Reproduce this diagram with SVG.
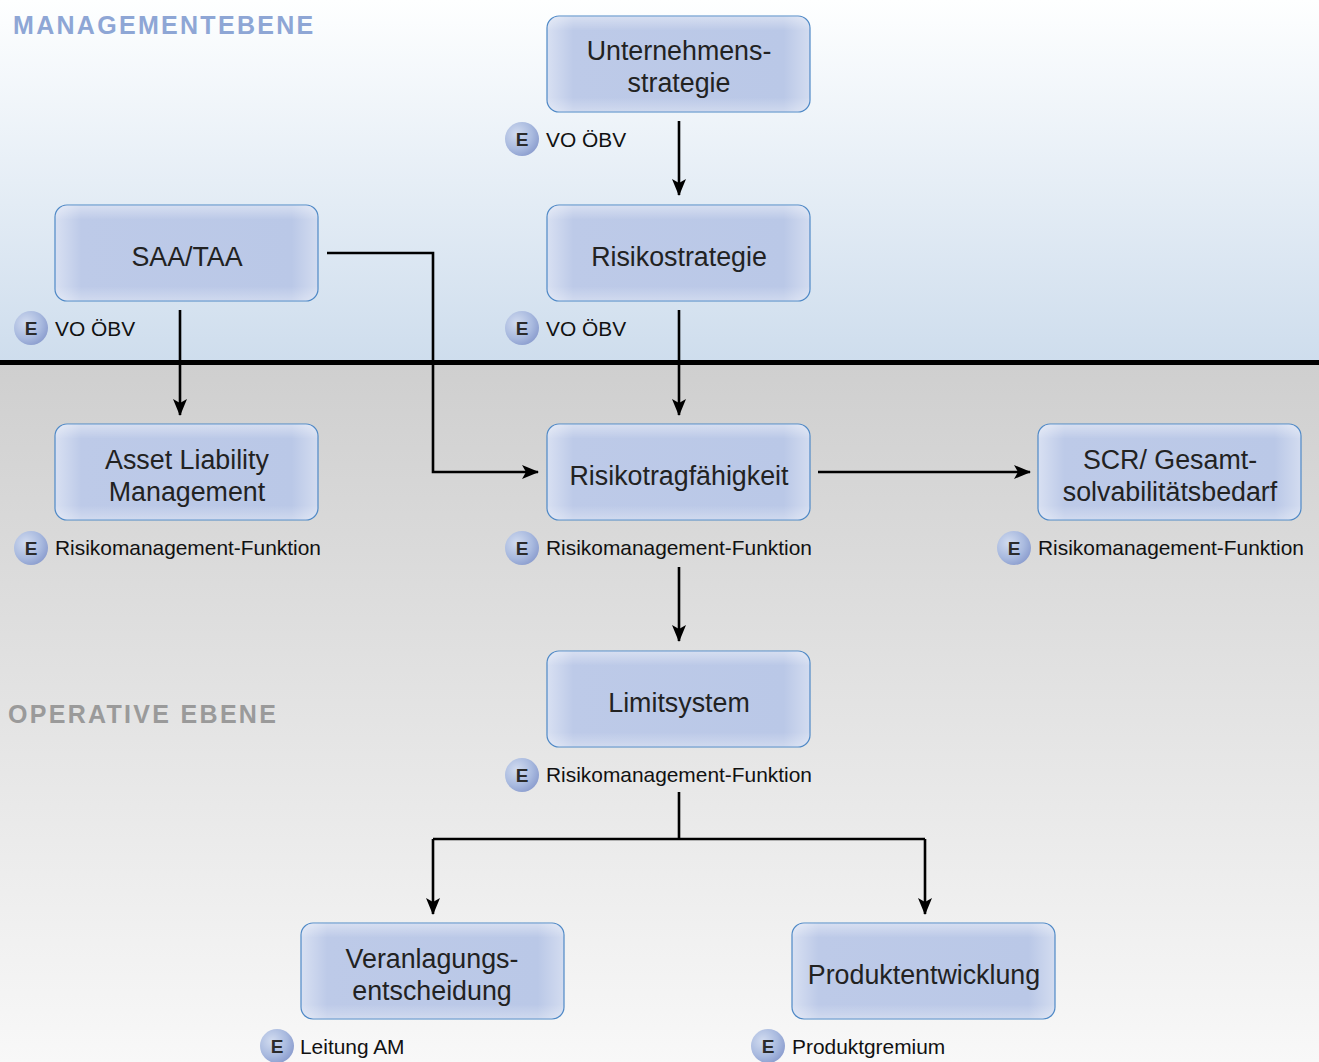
<svg xmlns="http://www.w3.org/2000/svg" width="1319" height="1062" viewBox="0 0 1319 1062">
<style>
.node-text{font-family:"Liberation Sans",Arial,sans-serif;font-size:26.8px;fill:#222;text-anchor:middle}
.lbl{font-family:"Liberation Sans",Arial,sans-serif;font-size:20.9px;fill:#111}
.e{font-family:"Liberation Sans",Arial,sans-serif;font-size:19px;font-weight:bold;fill:#2b2b2b;text-anchor:middle}
.head{font-family:"Liberation Sans",Arial,sans-serif;font-size:25px;font-weight:bold;letter-spacing:2.3px}
.box{stroke:#4f89c6;stroke-width:1.2}
.conn{fill:none;stroke:#000;stroke-width:2.6}
</style>
<defs>
<linearGradient id="bgTop" x1="0" y1="0" x2="0" y2="1">
<stop offset="0" stop-color="#feffff"/>
<stop offset="1" stop-color="#cedded"/>
</linearGradient>
<linearGradient id="bgBot" x1="0" y1="0" x2="0" y2="1">
<stop offset="0" stop-color="#cfcfcf"/>
<stop offset="1" stop-color="#f8f8f8"/>
</linearGradient>
<linearGradient id="nodeH" x1="0" y1="0" x2="1" y2="0">
<stop offset="0" stop-color="#d8e0f2"/>
<stop offset="0.1" stop-color="#bdcae8"/>
<stop offset="0.9" stop-color="#bac8e7"/>
<stop offset="1" stop-color="#d3dcf0"/>
</linearGradient>
<linearGradient id="nodeV" x1="0" y1="0" x2="0" y2="1">
<stop offset="0" stop-color="#ffffff" stop-opacity="0.4"/>
<stop offset="0.15" stop-color="#ffffff" stop-opacity="0"/>
<stop offset="0.85" stop-color="#ffffff" stop-opacity="0"/>
<stop offset="1" stop-color="#ffffff" stop-opacity="0.3"/>
</linearGradient>
<radialGradient id="badge" cx="0.35" cy="0.35" r="0.75">
<stop offset="0" stop-color="#d2dcf0"/>
<stop offset="0.6" stop-color="#a9badf"/>
<stop offset="1" stop-color="#8799cc"/>
</radialGradient>
<marker id="arr" markerWidth="17" markerHeight="14" refX="16" refY="7" orient="auto" markerUnits="userSpaceOnUse">
<path d="M0,0 L17,7 L0,14 L4,7 z" fill="#000"/>
</marker>
</defs>

<rect x="0" y="0" width="1319" height="362" fill="url(#bgTop)"/>
<rect x="0" y="362" width="1319" height="700" fill="url(#bgBot)"/>
<rect x="0" y="360" width="1319" height="5" fill="#000"/>

<text class="head" x="13" y="34" fill="#8ea6d5">MANAGEMENTEBENE</text>
<text class="head" x="8" y="723" fill="#9a9a9a">OPERATIVE EBENE</text>

<g id="connectors">
<path class="conn" d="M679,121 V195" marker-end="url(#arr)"/>
<path class="conn" d="M180,310 V415" marker-end="url(#arr)"/>
<path class="conn" d="M679,310 V415" marker-end="url(#arr)"/>
<path class="conn" d="M327,253 H433 V472 H538" marker-end="url(#arr)"/>
<path class="conn" d="M818,472 H1030" marker-end="url(#arr)"/>
<path class="conn" d="M679,567 V641" marker-end="url(#arr)"/>
<path class="conn" d="M679,792 V839 M433,839 H925"/>
<path class="conn" d="M433,839 V914" marker-end="url(#arr)"/>
<path class="conn" d="M925,839 V914" marker-end="url(#arr)"/>
</g>

<g id="n-unternehmensstrategie">
<rect class="box" x="547" y="16" width="263" height="96" rx="12" fill="url(#nodeH)"/>
<rect x="547.5" y="16.5" width="262" height="95" rx="12" fill="url(#nodeV)"/>
<text class="node-text" x="679" y="60">Unternehmens-</text>
<text class="node-text" x="679" y="92">strategie</text>
</g>
<g id="n-saa">
<rect class="box" x="55" y="205" width="263" height="96" rx="12" fill="url(#nodeH)"/>
<rect x="55.5" y="205.5" width="262" height="95" rx="12" fill="url(#nodeV)"/>
<text class="node-text" x="187" y="266">SAA/TAA</text>
</g>
<g id="n-risikostrategie">
<rect class="box" x="547" y="205" width="263" height="96" rx="12" fill="url(#nodeH)"/>
<rect x="547.5" y="205.5" width="262" height="95" rx="12" fill="url(#nodeV)"/>
<text class="node-text" x="679" y="266">Risikostrategie</text>
</g>
<g id="n-alm">
<rect class="box" x="55" y="424" width="263" height="96" rx="12" fill="url(#nodeH)"/>
<rect x="55.5" y="424.5" width="262" height="95" rx="12" fill="url(#nodeV)"/>
<text class="node-text" x="187" y="469">Asset Liability</text>
<text class="node-text" x="187" y="501">Management</text>
</g>
<g id="n-risikotragfaehigkeit">
<rect class="box" x="547" y="424" width="263" height="96" rx="12" fill="url(#nodeH)"/>
<rect x="547.5" y="424.5" width="262" height="95" rx="12" fill="url(#nodeV)"/>
<text class="node-text" x="679" y="485">Risikotragfähigkeit</text>
</g>
<g id="n-scr">
<rect class="box" x="1038" y="424" width="263" height="96" rx="12" fill="url(#nodeH)"/>
<rect x="1038.5" y="424.5" width="262" height="95" rx="12" fill="url(#nodeV)"/>
<text class="node-text" x="1170" y="469">SCR/ Gesamt-</text>
<text class="node-text" x="1170" y="501">solvabilitätsbedarf</text>
</g>
<g id="n-limitsystem">
<rect class="box" x="547" y="651" width="263" height="96" rx="12" fill="url(#nodeH)"/>
<rect x="547.5" y="651.5" width="262" height="95" rx="12" fill="url(#nodeV)"/>
<text class="node-text" x="679" y="712">Limitsystem</text>
</g>
<g id="n-veranlagung">
<rect class="box" x="301" y="923" width="263" height="96" rx="12" fill="url(#nodeH)"/>
<rect x="301.5" y="923.5" width="262" height="95" rx="12" fill="url(#nodeV)"/>
<text class="node-text" x="432" y="968">Veranlagungs-</text>
<text class="node-text" x="432" y="1000">entscheidung</text>
</g>
<g id="n-produkt">
<rect class="box" x="792" y="923" width="263" height="96" rx="12" fill="url(#nodeH)"/>
<rect x="792.5" y="923.5" width="262" height="95" rx="12" fill="url(#nodeV)"/>
<text class="node-text" x="924" y="984">Produktentwicklung</text>
</g>

<g id="labels">
<g id="b1"><circle cx="522" cy="139" r="17" fill="url(#badge)"/><text class="e" x="522" y="146">E</text><text class="lbl" x="546" y="147">VO ÖBV</text></g>
<g id="b2"><circle cx="31" cy="328" r="17" fill="url(#badge)"/><text class="e" x="31" y="335">E</text><text class="lbl" x="55" y="336">VO ÖBV</text></g>
<g id="b3"><circle cx="522" cy="328" r="17" fill="url(#badge)"/><text class="e" x="522" y="335">E</text><text class="lbl" x="546" y="336">VO ÖBV</text></g>
<g id="b4"><circle cx="31" cy="548" r="17" fill="url(#badge)"/><text class="e" x="31" y="555">E</text><text class="lbl" x="55" y="555">Risikomanagement-Funktion</text></g>
<g id="b5"><circle cx="522" cy="548" r="17" fill="url(#badge)"/><text class="e" x="522" y="555">E</text><text class="lbl" x="546" y="555">Risikomanagement-Funktion</text></g>
<g id="b6"><circle cx="1014" cy="548" r="17" fill="url(#badge)"/><text class="e" x="1014" y="555">E</text><text class="lbl" x="1038" y="555">Risikomanagement-Funktion</text></g>
<g id="b7"><circle cx="522" cy="775" r="17" fill="url(#badge)"/><text class="e" x="522" y="782">E</text><text class="lbl" x="546" y="782">Risikomanagement-Funktion</text></g>
<g id="b8"><circle cx="277" cy="1046" r="17" fill="url(#badge)"/><text class="e" x="277" y="1053">E</text><text class="lbl" x="300" y="1054">Leitung AM</text></g>
<g id="b9"><circle cx="768" cy="1046" r="17" fill="url(#badge)"/><text class="e" x="768" y="1053">E</text><text class="lbl" x="792" y="1054">Produktgremium</text></g>
</g>
</svg>
